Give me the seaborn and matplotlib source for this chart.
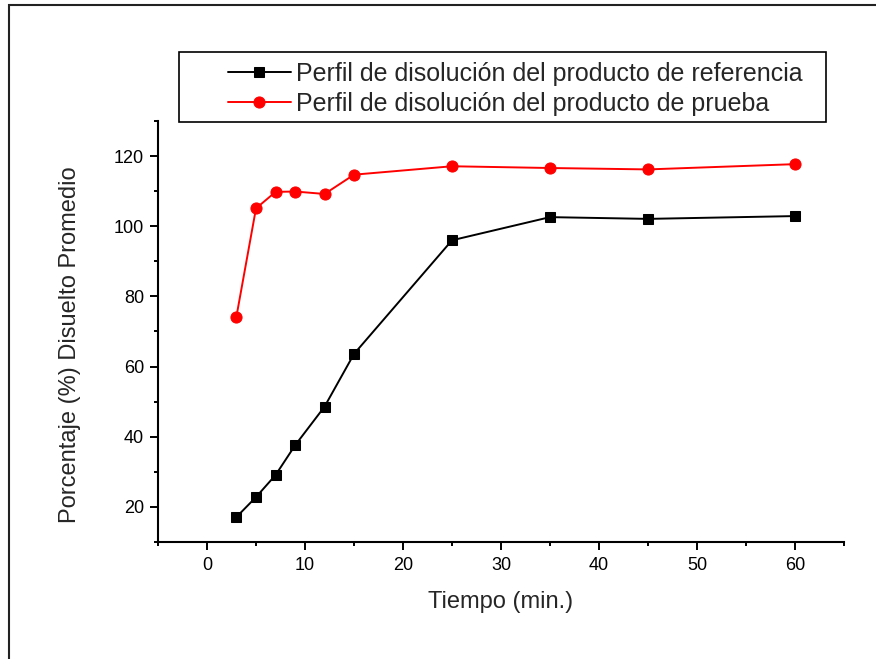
import matplotlib
matplotlib.use("Agg")
import matplotlib.pyplot as plt
from matplotlib.patches import Rectangle
from matplotlib.ticker import MultipleLocator
import seaborn as sns
import pandas as pd

# Dissolution profiles: sampling time (min) vs mean % dissolved
tiempo = [3, 5, 7, 9, 12, 15, 25, 35, 45, 60]
referencia = [17.1, 22.8, 29.1, 37.6, 48.6, 63.6, 96.0, 102.6, 102.1, 102.9]
prueba = [74.2, 105.1, 109.8, 109.9, 109.2, 114.7, 117.1, 116.6, 116.2, 117.7]

etiqueta_ref = "Perfil de disolución del producto de referencia"
etiqueta_pru = "Perfil de disolución del producto de prueba"

df = pd.DataFrame({
    "Tiempo": tiempo * 2,
    "Disuelto": referencia + prueba,
    "Perfil": [etiqueta_ref] * len(tiempo) + [etiqueta_pru] * len(tiempo),
})

sns.set_style("white")
plt.rcParams["font.family"] = ["Liberation Sans", "DejaVu Sans"]

W, H = 876, 659
fig = plt.figure(figsize=(W / 100, H / 100), dpi=100)
ax = fig.add_axes([158 / W, 1 - 542 / H, (844 - 158) / W, (542 - 121) / H])

sub_ref = df[df["Perfil"] == etiqueta_ref]
sub_pru = df[df["Perfil"] == etiqueta_pru]
sns.lineplot(data=sub_ref, x="Tiempo", y="Disuelto", ax=ax, color="black",
             marker="s", markersize=7.5, markeredgecolor="black",
             linewidth=1.4, label=etiqueta_ref)
sns.lineplot(data=sub_pru, x="Tiempo", y="Disuelto", ax=ax, color="#ff0000",
             marker="o", markersize=8, markeredgecolor="#ff0000",
             linewidth=1.4, label=etiqueta_pru)

ax.set_xlim(-5, 65)
ax.set_ylim(10, 130)
ax.xaxis.set_major_locator(MultipleLocator(10))
ax.xaxis.set_minor_locator(MultipleLocator(5))
ax.yaxis.set_major_locator(MultipleLocator(20))
ax.yaxis.set_minor_locator(MultipleLocator(10))
ax.set_yticks([20, 40, 60, 80, 100, 120])

for side in ("top", "right"):
    ax.spines[side].set_visible(False)
for side in ("left", "bottom"):
    ax.spines[side].set_linewidth(1.5)
    ax.spines[side].set_color("black")

ax.tick_params(which="major", direction="out", length=6, width=1.4,
               labelsize=13, colors="black", pad=4)
ax.tick_params(axis="x", which="major", pad=5)
ax.tick_params(which="minor", direction="out", length=3, width=1.4,
               colors="black")
ax.tick_params(axis="both", which="both", bottom=True, left=True)

ax.set_xlabel("Tiempo (min.)", fontsize=17, labelpad=12)
ax.set_ylabel("Porcentaje (%) Disuelto Promedio", fontsize=17)
ax.yaxis.set_label_coords((70 - 158) / 686, 1 - (345 - 121) / 421)
ax.yaxis.label.set_verticalalignment("center")

# Legend box spanning the top of the plot
fig.patches.append(Rectangle((179 / W, 1 - 122 / H), (826 - 179) / W, 70 / H,
                             transform=fig.transFigure, fill=False,
                             edgecolor="black", linewidth=1.2))
handles, labels = ax.get_legend_handles_labels()
ax.legend(handles, labels, loc="center left",
          bbox_to_anchor=(228 / W, 1 - 89 / H), bbox_transform=fig.transFigure,
          frameon=False, fontsize=18, handlelength=2.5, handletextpad=0.2,
          labelspacing=0.25, borderpad=0, borderaxespad=0)

# Outer page frame
fig.patches.append(Rectangle((9 / W, -0.1), 1.2, (1 - 5 / H) + 0.1,
                             transform=fig.transFigure, fill=False,
                             edgecolor="#222222", linewidth=1.5))

fig.savefig("out.png", dpi=100)
